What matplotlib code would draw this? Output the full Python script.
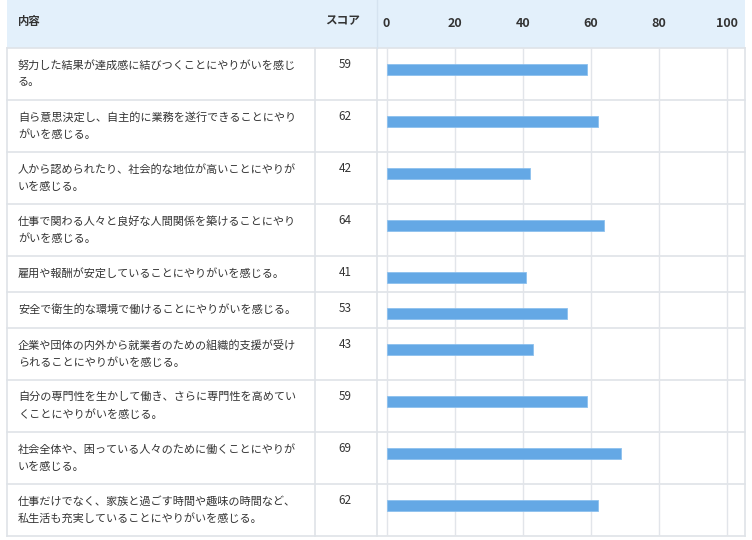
import textwrap

import matplotlib
matplotlib.use("Agg")
import matplotlib.pyplot as plt
from matplotlib.patches import Rectangle

plt.rcParams["font.family"] = ["Noto Sans CJK JP", "DejaVu Sans"]

# --- data ---
labels = [
    "努力した結果が達成感に結びつくことにやりがいを感じる。",
    "自ら意思決定し、自主的に業務を遂行できることにやりがいを感じる。",
    "人から認められたり、社会的な地位が高いことにやりがいを感じる。",
    "仕事で関わる人々と良好な人間関係を築けることにやりがいを感じる。",
    "雇用や報酬が安定していることにやりがいを感じる。",
    "安全で衛生的な環境で働けることにやりがいを感じる。",
    "企業や団体の内外から就業者のための組織的支援が受けられることにやりがいを感じる。",
    "自分の専門性を生かして働き、さらに専門性を高めていくことにやりがいを感じる。",
    "社会全体や、困っている人々のために働くことにやりがいを感じる。",
    "仕事だけでなく、家族と過ごす時間や趣味の時間など、私生活も充実していることにやりがいを感じる。",
]
scores = [59, 62, 42, 64, 41, 53, 43, 59, 69, 62]
ticks = [0, 20, 40, 60, 80, 100]
headers = ["内容", "スコア"]

# --- layout (pixels) ---
W, H = 752, 540
LEFT, RIGHT = 7, 745
COL_SCORE, COL_CHART = 315, 377
HEADER_H = 48
ZERO_X, HUNDRED_X = 386.5, 727
TEXT_COLOR = "#333333"
LINE_COLOR = "#dfe3e8"
HEADER_BG = "#e3f0fb"
BAR_COLOR = "#64a8e5"

wrapped = [textwrap.wrap(s, 25) for s in labels]
row_h = [36 + 16 * (len(w) - 1) for w in wrapped]
row_top = []
y = HEADER_H
for h in row_h:
    row_top.append(y)
    y += h
bottom = y

fig = plt.figure(figsize=(W / 100, H / 100), dpi=100)
ax = fig.add_axes([0, 0, 1, 1])
ax.set_xlim(0, W)
ax.set_ylim(H, 0)
ax.axis("off")

# header
ax.add_patch(Rectangle((LEFT, 0), RIGHT - LEFT, HEADER_H, color=HEADER_BG, lw=0))
ax.text(18, 21, headers[0], fontsize=8.2, fontweight="bold", color=TEXT_COLOR, va="center")
ax.text(343, 21, headers[1], fontsize=8.4, fontweight="bold", color=TEXT_COLOR,
        va="center", ha="center")

# table lines
for t in row_top[1:] + [HEADER_H, bottom]:
    ax.plot([LEFT, RIGHT], [t, t], color=LINE_COLOR, lw=1.2)
for x in [LEFT, COL_SCORE, COL_CHART, RIGHT]:
    ax.plot([x, x], [HEADER_H, bottom], color=LINE_COLOR, lw=1.2)
ax.plot([COL_CHART, COL_CHART], [0, HEADER_H], color="#d5e3f0", lw=1.0)

# row text
for lines, top, sc in zip(wrapped, row_top, scores):
    for i, line in enumerate(lines):
        ax.text(18, top + 17 + 17.5 * i, line, fontsize=8, color=TEXT_COLOR, va="center")
    ax.text(345, top + 17, str(sc), fontsize=8.4, color=TEXT_COLOR, va="center", ha="center")

# chart column
scale = (HUNDRED_X - ZERO_X) / 100
xmin = -(ZERO_X - COL_CHART) / scale
xmax = xmin + (RIGHT - COL_CHART) / scale
ax2 = fig.add_axes([COL_CHART / W, 1 - bottom / H,
                    (RIGHT - COL_CHART) / W, (bottom - HEADER_H) / H])
ax2.set_facecolor("none")
ax2.set_xlim(xmin, xmax)
ax2.set_ylim(bottom, HEADER_H)
for s in ax2.spines.values():
    s.set_visible(False)
ax2.set_xticks(ticks)
ax2.xaxis.tick_top()
ax2.tick_params(axis="x", length=0, pad=13, labelsize=9, labelcolor=TEXT_COLOR)
for lb in ax2.get_xticklabels():
    lb.set_fontweight("bold")
ax2.set_yticks([])
ax2.grid(axis="x", color="#e2e5ea", lw=1.0)
ax2.set_axisbelow(True)

centers = [t + 21.5 for t in row_top]
ax2.barh(centers, scores, height=11, color=BAR_COLOR, edgecolor="#8cc0ee", lw=0.6)

fig.savefig("out.png", dpi=100)
